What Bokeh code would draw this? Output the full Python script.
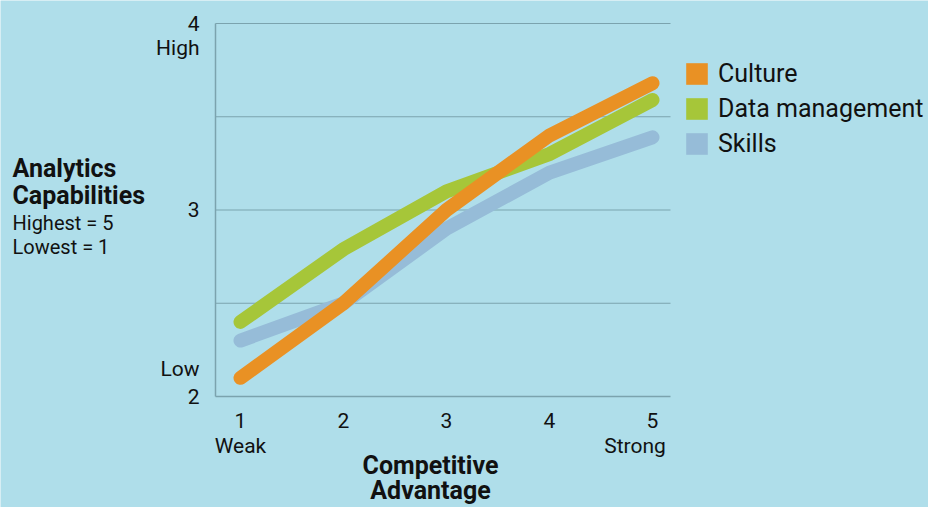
from bokeh.plotting import figure
from bokeh.models import (Range1d, FixedTicker, Label, Legend, LegendItem,
                          ColumnDataSource, LinearAxis)
from bokeh.embed import file_html
from bokeh.resources import INLINE

# Competitive advantage (1 = weak, 5 = strong) and mean analytics capability scores
strength = [1, 2, 3, 4, 5]
culture = [2.1, 2.5, 3.0, 3.4, 3.68]
data_management = [2.4, 2.79, 3.1, 3.3, 3.59]
skills = [2.3, 2.5, 2.9, 3.2, 3.39]

series_names = ["Culture", "Data management", "Skills"]
x_ticks = [1, 2, 3, 4, 5]
y_ticks = [2, 3, 4]
y_words = {2.145: "Low", 3.866: "High"}
x_words = {1: "Weak", 4.83: "Strong"}
grid_levels = [2.5, 3, 3.5, 4]

BG = "#afdeea"
GRID = "#7ba3ae"
COLORS = {"Culture": "#e99124", "Data management": "#a6c639", "Skills": "#96bcd8"}
FONT = "Roboto"
TEXT = "#111111"

W, H = 928, 507
# canvas pixel of x = 1 and y = 2, and pixels per unit on each axis
ORIGIN_PX, ORIGIN_PY = 240, 396
PPU_X, PPU_Y = 103.0, 186.5


def sx_to_x(sx):
    return 1 + (sx - ORIGIN_PX) / PPU_X


def sy_to_y(sy):
    return 2 + (ORIGIN_PY - sy) / PPU_Y


# chart area extent in data units (left axis at 0.757, right end at 5.175)
AREA_X = (sx_to_x(215), sx_to_x(670))
AREA_Y = (2, 4)

p = figure(width=W, height=H, output_backend="svg", toolbar_location=None,
           x_range=Range1d(sx_to_x(0), sx_to_x(W)), y_range=Range1d(sy_to_y(H), sy_to_y(0)),
           x_axis_location=None, y_axis_location=None,
           min_border=0, min_border_left=0, min_border_right=0,
           min_border_top=0, min_border_bottom=0)
p.background_fill_color = BG
p.border_fill_color = BG
p.outline_line_color = None
p.xgrid.visible = False
p.ygrid.visible = False


def style_axis(ax):
    ax.major_tick_line_color = None
    ax.minor_tick_line_color = None
    ax.major_tick_out = 0
    ax.major_tick_in = 0
    ax.axis_line_color = GRID
    ax.axis_line_width = 1.5
    ax.major_label_text_font = FONT
    ax.major_label_text_font_size = "21px"
    ax.major_label_text_color = TEXT


yaxis = LinearAxis(fixed_location=AREA_X[0], bounds=AREA_Y,
                   ticker=FixedTicker(ticks=y_ticks + list(y_words)),
                   major_label_overrides=y_words)
style_axis(yaxis)
yaxis.major_label_standoff = 16
p.add_layout(yaxis, "left")

xaxis = LinearAxis(fixed_location=AREA_Y[0], bounds=AREA_X,
                   ticker=FixedTicker(ticks=x_ticks))
style_axis(xaxis)
xaxis.major_label_standoff = 16
p.add_layout(xaxis, "below")

# horizontal gridlines across the chart area
p.segment(x0=AREA_X[0], x1=AREA_X[1], y0=grid_levels, y1=grid_levels,
          line_color=GRID, line_width=1.2)

# series lines, drawn so that Culture sits on top
src = ColumnDataSource(dict(x=strength, culture=culture, data=data_management, skills=skills))
for col, name in (("skills", "Skills"), ("data", "Data management"), ("culture", "Culture")):
    p.line("x", col, source=src, line_color=COLORS[name], line_width=14,
           line_cap="round", line_join="miter")

# legend with square swatches (zero-size rects carry the colours)
items = []
for col, name in (("culture", "Culture"), ("data", "Data management"), ("skills", "Skills")):
    r = p.rect(x="x", y=col, width=0, height=0, source=src,
               fill_color=COLORS[name], line_color=None)
    items.append(LegendItem(label=name, renderers=[r]))
legend = Legend(items=items, location=(683, 349), glyph_width=27, glyph_height=27,
                spacing=6, padding=0, margin=0, border_line_color=None,
                background_fill_alpha=0, label_text_font=FONT,
                label_text_font_size="25px", label_text_color=TEXT, label_standoff=8)
p.add_layout(legend)


def add_text(text, x, y, size, align="left", style="normal"):
    p.add_layout(Label(x=x, y=y, text=text, text_font=FONT, text_font_size=size,
                       text_align=align, text_baseline="middle", text_color=TEXT,
                       text_font_style=style))


# scale words under the x tick labels
for xv, word in x_words.items():
    add_text(word, xv, sy_to_y(445), "21px", align="center")

# axis titles
add_text("Competitive", sx_to_x(430), sy_to_y(465), "25px", align="center", style="bold")
add_text("Advantage", sx_to_x(430), sy_to_y(490), "25px", align="center", style="bold")
add_text("Analytics", sx_to_x(12), sy_to_y(168), "25px", style="bold")
add_text("Capabilities", sx_to_x(12), sy_to_y(195), "25px", style="bold")
add_text("Highest = 5", sx_to_x(12), sy_to_y(222), "20px")
add_text("Lowest = 1", sx_to_x(12), sy_to_y(246), "20px")

open("out.html", "w").write(file_html(p, INLINE))
